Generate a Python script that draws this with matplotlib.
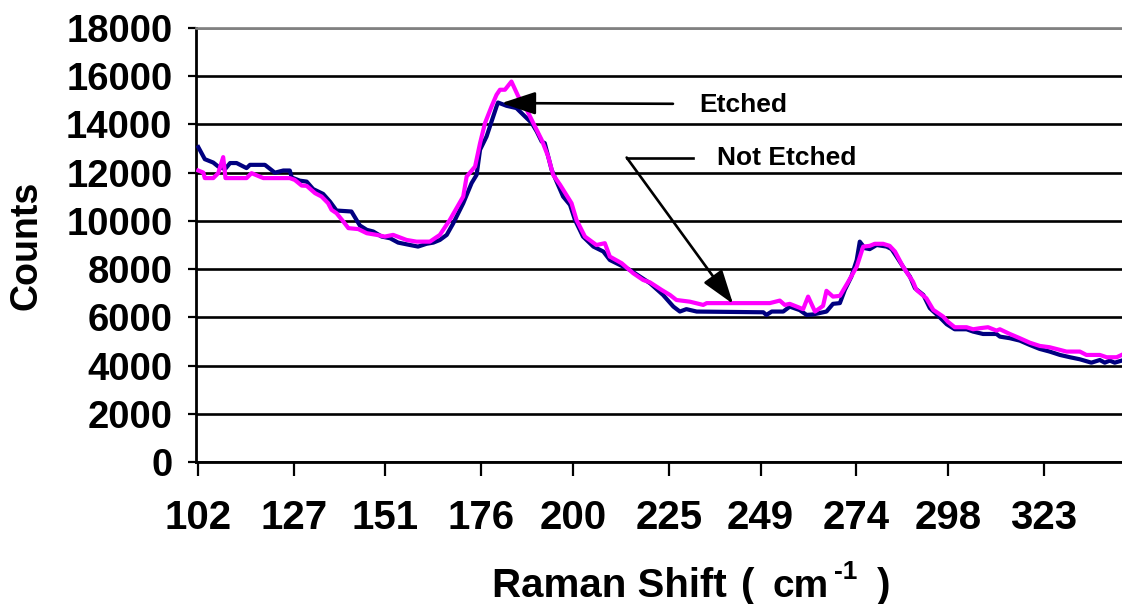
import numpy as np
import matplotlib
matplotlib.use("Agg")
import matplotlib.pyplot as plt

plt.rcParams['font.family'] = ['Liberation Sans', 'DejaVu Sans']

# Raman spectra: shift in cm^-1 and detector counts for each sample
shift_etched = [102.1, 103.8, 106.0, 107.3, 109.1, 110.4, 112.1, 114.7, 115.6, 119.5,
                122.1, 124.3, 126.0, 126.5, 128.6, 130.4, 132.1, 134.7, 136.5, 138.2,
                142.1, 144.3, 146.1, 147.8, 150.0, 152.2, 154.3, 157.4, 159.5, 161.7,
                163.5, 165.2, 167.0, 168.7, 171.3, 173.5, 174.8, 175.7, 177.4, 178.7,
                180.0, 180.4, 182.6, 185.2, 187.0, 189.2, 190.5, 191.8, 192.6, 194.4,
                195.7, 197.4, 199.2, 200.5, 202.6, 205.3, 207.9, 209.6, 212.2, 214.8,
                220.1, 223.5, 226.2, 227.9, 229.6, 232.3, 249.7, 250.5, 251.9, 254.9,
                256.6, 259.2, 261.0, 262.7, 266.2, 267.9, 269.7, 271.0, 272.7, 274.1,
                274.9, 276.2, 277.5, 279.3, 281.9, 283.2, 284.5, 286.2, 288.0, 289.3,
                291.5, 293.2, 295.8, 297.6, 299.7, 302.8, 304.5, 307.1, 310.6, 311.5,
                314.1, 316.7, 319.3, 321.9, 324.5, 327.2, 329.8, 332.4, 335.4, 337.6,
                338.9, 340.2, 341.5, 343.3]
counts_etched = [13060, 12560, 12420, 12255, 12150, 12400, 12400, 12190, 12325, 12325,
                 12000, 12090, 12090, 11800, 11670, 11630, 11320, 11120, 10800, 10430,
                 10390, 9810, 9630, 9560, 9350, 9280, 9100, 9000, 8935, 9050,
                 9100, 9210, 9420, 9900, 10730, 11570, 11910, 12950, 13500, 14120,
                 14740, 14910, 14775, 14680, 14400, 14060, 13710, 13290, 13225, 12120,
                 11630, 11010, 10665, 10040, 9350, 8935, 8730, 8380, 8175, 7970,
                 7415, 6930, 6445, 6240, 6340, 6240, 6210, 6100, 6240, 6240,
                 6445, 6300, 6100, 6120, 6240, 6560, 6590, 7140, 7690, 8380,
                 9140, 8870, 8830, 9000, 8935, 8830, 8520, 8100, 7690, 7210,
                 6930, 6380, 6000, 5715, 5505, 5505, 5410, 5310, 5310, 5200,
                 5135, 5035, 4855, 4690, 4580, 4440, 4345, 4260, 4120, 4230,
                 4120, 4205, 4120, 4205]

shift_not_etched = [102.1, 103.4, 103.8, 106.0, 107.3, 108.6, 109.2, 114.7, 116.0, 119.1,
                    126.0, 127.3, 129.1, 130.4, 132.6, 134.3, 136.0, 136.9, 138.2, 140.0,
                    141.3, 143.9, 146.1, 148.7, 150.8, 153.0, 156.5, 159.1, 162.6, 165.2,
                    167.8, 171.3, 172.2, 174.4, 175.7, 177.0, 178.7, 180.0, 180.9, 182.2,
                    183.9, 185.7, 187.9, 189.6, 191.8, 193.5, 194.8, 196.6, 199.6, 200.9,
                    203.1, 206.1, 208.3, 209.6, 212.7, 215.7, 218.3, 220.1, 223.1, 225.3,
                    227.0, 230.5, 234.0, 234.9, 251.4, 254.0, 255.3, 256.6, 260.1, 261.4,
                    263.2, 265.3, 266.2, 267.9, 269.7, 271.9, 274.1, 275.8, 277.5, 278.8,
                    281.0, 282.7, 284.1, 286.2, 288.8, 289.7, 292.3, 294.1, 296.7, 297.9,
                    299.7, 302.8, 304.5, 306.3, 308.4, 310.6, 311.5, 314.1, 316.7, 319.3,
                    321.9, 324.5, 327.2, 328.9, 332.4, 334.1, 337.6, 339.4, 342.0, 343.3]
counts_not_etched = [12090, 12005, 11775, 11775, 11980, 12645, 11775, 11775, 11980, 11775,
                     11775, 11700, 11465, 11455, 11150, 11010, 10735, 10460, 10320, 9970,
                     9700, 9660, 9490, 9420, 9350, 9420, 9210, 9140, 9140, 9420,
                     10040, 11010, 11840, 12255, 13225, 14060, 14745, 15230, 15440, 15440,
                     15780, 15160, 14610, 14060, 13360, 12670, 11910, 11500, 10735, 10040,
                     9350, 9000, 9075, 8520, 8245, 7830, 7550, 7450, 7140, 6930,
                     6720, 6650, 6515, 6590, 6590, 6695, 6515, 6560, 6340, 6860,
                     6240, 6475, 7100, 6860, 6890, 7480, 8100, 8935, 8965, 9050,
                     9050, 8965, 8730, 8100, 7480, 7140, 6790, 6310, 6030, 5820,
                     5590, 5590, 5505, 5550, 5590, 5450, 5505, 5310, 5135, 4950,
                     4815, 4760, 4650, 4580, 4580, 4440, 4440, 4345, 4345, 4440]

tick_shifts = [102, 127, 151, 176, 200, 225, 249, 274, 298, 323]
count_ticks = list(range(0, 18001, 2000))

fig = plt.figure(figsize=(11.22, 6.04), dpi=100)
ax = fig.add_axes([0.1747, 0.2351, 0.8253, 0.7185])

ax.plot(shift_etched, counts_etched, color='#000080', lw=3.0, zorder=3)
ax.plot(shift_not_etched, counts_not_etched, color='#FF00FF', lw=3.0, zorder=4)

ax.set_xlim(101.5, 343.4)
ax.set_ylim(0, 18000)
ax.set_xticks(tick_shifts)
ax.set_xticklabels([str(t) for t in tick_shifts])
ax.set_yticks(count_ticks)

ax.grid(axis='y', color='black', lw=1.9)
ax.get_ygridlines()[-1].set_color('#808080')
ax.set_axisbelow(True)

ax.spines['right'].set_visible(False)
ax.spines['top'].set_color('#808080')
ax.spines['top'].set_linewidth(1.9)
ax.spines['left'].set_linewidth(2.0)
ax.spines['bottom'].set_linewidth(2.0)

ax.tick_params(axis='y', direction='out', length=6, width=1.6, pad=11,
               labelsize=27.5)
ax.tick_params(axis='x', direction='out', length=10, width=1.6, pad=17,
               labelsize=29)
for lbl in ax.get_xticklabels() + ax.get_yticklabels():
    lbl.set_fontweight('bold')

# axis titles
fig.text(26 / 1122, 1 - 245 / 604, 'Counts', rotation=90, fontsize=27,
         fontweight='bold', ha='center', va='center')
base = 1 - 597 / 604
fig.text(492 / 1122, base, 'Raman Shift', fontsize=29, fontweight='bold',
         ha='left', va='baseline')
fig.text(741 / 1122, base, '(', fontsize=29, fontweight='bold',
         ha='left', va='baseline')
fig.text(772 / 1122, base, 'cm', fontsize=28, fontweight='bold',
         ha='left', va='baseline')
fig.text(834 / 1122, 1 - 579 / 604, '-1', fontsize=19, fontweight='bold',
         ha='left', va='baseline')
fig.text(877 / 1122, base, ')', fontsize=29, fontweight='bold',
         ha='left', va='baseline')

# sample labels with pointer arrows
head = dict(arrowstyle='-|>,head_length=2.1,head_width=0.7', color='black',
            lw=1.9, shrinkA=0, shrinkB=0, mutation_scale=10)
ax.annotate('', xy=(181.3, 14886), xytext=(226.1, 14857), arrowprops=head,
            zorder=6)
ax.text(244.4, 14795, 'Etched', fontsize=19, fontweight='bold',
        ha='center', va='center', zorder=6)

ax.plot([214.0, 231.4], [12628, 12628], color='black', lw=1.9, zorder=6)
ax.annotate('', xy=(241.8, 6557), xytext=(214.0, 12628), arrowprops=head,
            zorder=6)
ax.text(255.7, 12616, 'Not Etched', fontsize=19, fontweight='bold',
        ha='center', va='center', zorder=6)

fig.savefig('out.png', dpi=100)
